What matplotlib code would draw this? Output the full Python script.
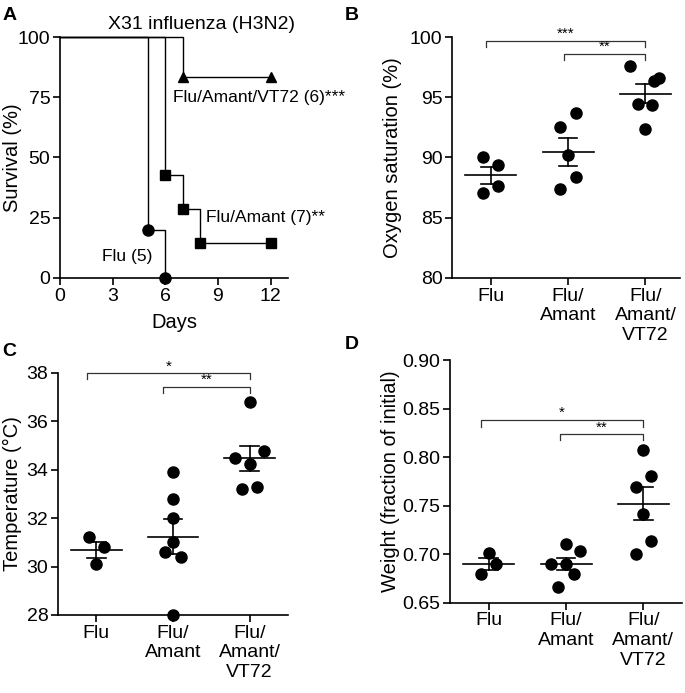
import numpy as np
import matplotlib
matplotlib.use("Agg")
import matplotlib.pyplot as plt

plt.rcParams['font.family'] = ['Liberation Sans', 'DejaVu Sans']
plt.rcParams['font.size'] = 14

# ---- panel A: survival ----
flu_days = [0, 5, 6]
flu_surv = [100, 20, 0]
amant_days = [0, 6, 7, 8, 12]
amant_surv = [100, 42.86, 28.57, 14.29, 14.29]
vt72_days = [0, 7, 12]
vt72_surv = [100, 83.33, 83.33]

# ---- panels B-D: dot plots ----
groups = ["Flu", "Flu/\nAmant", "Flu/\nAmant/\nVT72"]

oxy_flu = [90.0, 89.4, 87.6, 87.05]
oxy_amant = [92.5, 93.7, 90.2, 88.4, 87.4]
oxy_vt72 = [97.56, 96.38, 96.6, 94.47, 94.38, 92.37]

temp_flu = [31.2, 30.79, 30.09]
temp_amant = [33.9, 32.77, 31.99, 31.0, 30.61, 30.38, 28.0]
temp_vt72 = [36.78, 34.49, 34.78, 34.22, 33.19, 33.3]

wt_flu = [0.7008, 0.6895, 0.6792]
wt_amant = [0.7101, 0.7036, 0.6895, 0.6895, 0.6792, 0.6665]
wt_vt72 = [0.8073, 0.7808, 0.7695, 0.741, 0.7139, 0.7001]

# horizontal scatter offsets (layout only)
off_b = [[-0.1, 0.1, 0.1, -0.1], [-0.1, 0.1, 0.0, 0.1, -0.1],
         [-0.2, 0.11, 0.17, -0.09, 0.09, 0.0]]
off_c = [[-0.1, 0.1, 0.0], [0.0, 0.0, 0.0, 0.0, -0.1, 0.1, 0.0],
         [0.0, -0.19, 0.19, 0.0, -0.1, 0.1]]
off_d = [[0.0, 0.1, -0.1], [0.0, 0.18, -0.19, 0.0, 0.1, -0.1],
         [0.0, 0.1, -0.1, 0.0, 0.1, -0.1]]

fig = plt.figure(figsize=(6.85, 6.93), dpi=100)


def style(ax):
    for s in ["top", "right"]:
        ax.spines[s].set_visible(False)
    for s in ["left", "bottom"]:
        ax.spines[s].set_linewidth(1.2)
    ax.tick_params(direction="out", length=5, width=1.2, labelsize=14, pad=2)


def dotplot(ax, data, offs, ylim, yticks, ylabel, brackets):
    for i, (vals, off) in enumerate(zip(data, offs)):
        xs = [i + o for o in off]
        ax.plot(xs, vals, "o", color="black", ms=8, clip_on=False, zorder=3)
        m = np.mean(vals)
        sem = np.std(vals, ddof=1) / np.sqrt(len(vals))
        ax.plot([i - 0.33, i + 0.33], [m, m], color="black", lw=1.2, zorder=2)
        ax.plot([i - 0.12, i + 0.12], [m + sem, m + sem], color="black", lw=1.2)
        ax.plot([i - 0.12, i + 0.12], [m - sem, m - sem], color="black", lw=1.2)
        ax.plot([i, i], [m - sem, m + sem], color="black", lw=1.2)
    ax.set_ylim(*ylim)
    ax.set_yticks(yticks)
    ax.set_xticks(range(3))
    ax.set_xticklabels(groups)
    ax.set_ylabel(ylabel, fontsize=14.5)
    for x0, x1, y, drop, star in brackets:
        ax.plot([x0, x0, x1, x1], [y - drop, y, y, y - drop], color="#333333",
                lw=0.9, clip_on=False)
        ax.text((x0 + x1) / 2, y, star, ha="center", va="bottom", fontsize=11)
    style(ax)


# A
axA = fig.add_axes([0.0876, 0.599, 0.333, 0.3476])
axA.step(flu_days, flu_surv, where="post", color="black", lw=1.0, clip_on=False)
axA.plot(flu_days[1:], flu_surv[1:], "o", color="black", ms=8, clip_on=False)
axA.step(amant_days, amant_surv, where="post", color="black", lw=1.0, clip_on=False)
axA.plot(amant_days[1:], amant_surv[1:], "s", color="black", ms=7, clip_on=False)
axA.step(vt72_days, vt72_surv, where="post", color="black", lw=1.0, clip_on=False)
axA.plot(vt72_days[1:], vt72_surv[1:], "^", color="black", ms=7, clip_on=False)
axA.set_xlim(0, 13)
axA.set_ylim(0, 100)
axA.set_xticks([0, 3, 6, 9, 12])
axA.set_yticks([0, 25, 50, 75, 100])
axA.set_xlabel("Days", fontsize=14.5, labelpad=6)
axA.set_ylabel("Survival (%)", fontsize=14.5)
axA.set_title("X31 influenza (H3N2)", fontsize=14, pad=6, x=0.62)
axA.text(6.45, 75, "Flu/Amant/VT72 (6)***", fontsize=12.5, va="center", ha="left")
axA.text(8.3, 25, "Flu/Amant (7)**", fontsize=12.5, va="center", ha="left")
axA.text(2.4, 8.7, "Flu (5)", fontsize=12.5, va="center", ha="left")
style(axA)
axA.yaxis.set_label_coords(-0.165, 0.5)

# B
axB = fig.add_axes([0.66, 0.599, 0.333, 0.3476])
axB.set_xlim(-0.5, 2.45)
dotplot(axB, [oxy_flu, oxy_amant, oxy_vt72], off_b, (80, 100),
        [80, 85, 90, 95, 100], "Oxygen saturation (%)",
        [(-0.06, 2.0, 99.7, 0.5, "***"), (0.95, 2.0, 98.6, 0.55, "**")])
axB.yaxis.set_label_coords(-0.22, 0.5)

# C
axC = fig.add_axes([0.0847, 0.1126, 0.3356, 0.3496])
axC.set_xlim(-0.5, 2.5)
dotplot(axC, [temp_flu, temp_amant, temp_vt72], off_c, (28, 38),
        [28, 30, 32, 34, 36, 38], "Temperature (°C)",
        [(-0.12, 2.0, 37.97, 0.25, "*"), (0.87, 2.0, 37.42, 0.25, "**")])
axC.yaxis.set_label_coords(-0.155, 0.5)

# D
axD = fig.add_axes([0.657, 0.1303, 0.3386, 0.3502])
axD.set_xlim(-0.5, 2.5)
dotplot(axD, [wt_flu, wt_amant, wt_vt72], off_d, (0.65, 0.90),
        [0.65, 0.70, 0.75, 0.80, 0.85, 0.90], "Weight (fraction of initial)",
        [(-0.1, 2.0, 0.8382, 0.007, "*"), (0.92, 2.0, 0.8234, 0.006, "**")])
axD.set_yticklabels(["0.65", "0.70", "0.75", "0.80", "0.85", "0.90"])
axD.yaxis.set_label_coords(-0.215, 0.5)

# panel letters
for lbl, x, y in [("A", 0.003, 0.99), ("B", 0.503, 0.99),
                  ("C", 0.003, 0.505), ("D", 0.503, 0.515)]:
    fig.text(x, y, lbl, fontsize=14, fontweight="bold", va="top", ha="left")

fig.savefig("out.png", dpi=100)
